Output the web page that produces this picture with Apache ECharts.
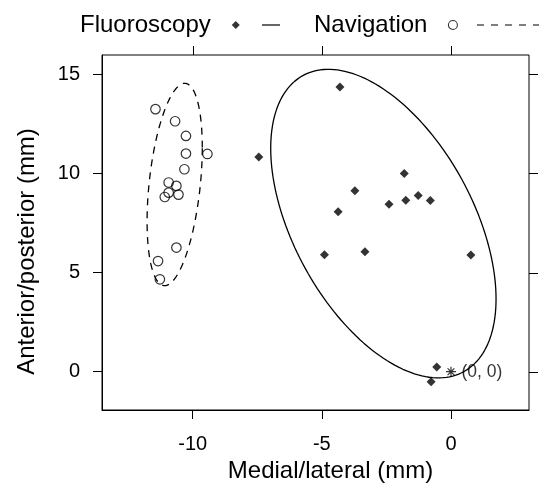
<!DOCTYPE html>
<html>
<head>
<meta charset="utf-8">
<script src="https://cdn.jsdelivr.net/npm/echarts@6/dist/echarts.min.js"></script>
<style>
  html, body { margin: 0; padding: 0; background: #fff; }
  #chart { width: 541px; height: 484px; }
</style>
</head>
<body>
<div id="chart"></div>
<script>
  /** Data (mm) */
  var fluoroX = [-4.30, -1.81, -3.72, -4.37, -2.40, -1.75, -1.27, -0.80, -4.90, -3.33, 0.77, -0.55, -0.77, -7.44];
  var fluoroY = [14.36, 9.99, 9.12, 8.07, 8.45, 8.65, 8.88, 8.63, 5.90, 6.05, 5.89, 0.24, -0.50, 10.83];
  var naviX = [-11.44, -10.68, -10.26, -10.26, -9.43, -10.32, -10.93, -10.63, -10.93, -11.08, -10.55, -10.63, -11.34, -11.27];
  var naviY = [13.24, 12.63, 11.89, 11.00, 10.98, 10.21, 9.54, 9.37, 9.03, 8.81, 8.93, 6.26, 5.58, 4.66];
  var originPoint = [0, 0];
  var xTicks = [-10, -5, 0];
  var yTicks = [0, 5, 10, 15];
  var xRange = [-13.51, 3.02];
  var yRange = [-1.93, 15.97];
  var ellipseSd = 2; // ellipse = mean +/- 2 SD of each group

  var FONT = "'Liberation Sans', Arial, sans-serif";
  var TICK_LEN = 9;

  function pairs(xs, ys) {
    var out = [];
    for (var i = 0; i < xs.length; i++) out.push([xs[i], ys[i]]);
    return out;
  }

  // covariance ellipse of a group, from its mean, SDs and correlation
  function dataEllipse(xs, ys, k) {
    var n = xs.length, mx = 0, my = 0, sxx = 0, syy = 0, sxy = 0;
    for (var i = 0; i < n; i++) { mx += xs[i]; my += ys[i]; }
    mx /= n; my /= n;
    for (var j = 0; j < n; j++) {
      sxx += (xs[j] - mx) * (xs[j] - mx);
      syy += (ys[j] - my) * (ys[j] - my);
      sxy += (xs[j] - mx) * (ys[j] - my);
    }
    var sx = Math.sqrt(sxx / (n - 1)), sy = Math.sqrt(syy / (n - 1));
    var r = sxy / Math.sqrt(sxx * syy);
    var pts = [];
    for (var s = 0; s <= 180; s++) {
      var t = 2 * Math.PI * s / 180;
      pts.push([
        mx + k * sx * Math.cos(t),
        my + k * sy * (r * Math.cos(t) + Math.sqrt(1 - r * r) * Math.sin(t))
      ]);
    }
    return pts;
  }

  function blank() { return ''; }

  var diamondIcon = 'path://M5,0L10,5L5,10L0,5Z';
  var ringIcon = 'path://M5,0A5,5 0 1,1 5,10A5,5 0 1,1 5,0Z';
  var solidIcon = 'path://M0,0H18V1.2H0Z';
  var dashIcon = 'path://M0,0H7V1.2H0ZM14,0H21V1.2H14ZM28,0H35V1.2H28ZM42,0H49V1.2H42ZM56,0H62V1.2H56Z';

  function keyItem(left, name, icon, w, style, padRight, isBlank) {
    return {
      left: left, top: 13, padding: 0, orient: 'horizontal', align: 'right',
      selectedMode: false, symbolKeepAspect: true,
      itemWidth: w, itemHeight: 24, itemGap: 0,
      formatter: isBlank ? blank : '{name}',
      textStyle: { fontSize: 24, color: '#000', fontFamily: FONT, padding: [0, padRight, 0, 0] },
      data: [{ name: name, icon: icon, itemStyle: style }]
    };
  }

  var option = {
    animation: false,
    backgroundColor: '#fff',
    grid: {
      left: 102, right: 12, top: 55, bottom: 74, outerBoundsMode: 'none',
      show: true, borderColor: '#000', borderWidth: 1, backgroundColor: 'transparent'
    },
    legend: [
      keyItem(80, 'Fluoroscopy', diamondIcon, 8, { color: '#000', borderWidth: 0 }, 16, false),
      keyItem(262, 'Fluoroscopy ellipse', solidIcon, 18, { color: '#000', borderWidth: 0 }, 0, true),
      keyItem(314, 'Navigation', ringIcon, 9, { color: 'rgba(0,0,0,0)', borderColor: '#000', borderWidth: 1.1 }, 16, false),
      keyItem(477, 'Navigation ellipse', dashIcon, 62, { color: '#000', borderWidth: 0 }, 0, true)
    ],
    xAxis: {
      type: 'value', min: xRange[0], max: xRange[1],
      name: 'Medial/lateral (mm)', nameLocation: 'middle', nameGap: 49,
      nameTextStyle: { fontSize: 24, color: '#000', fontFamily: FONT, padding: [0, 0, 0, 30] },
      axisLine: { show: true, onZero: false, lineStyle: { color: '#000', width: 1 } },
      axisTick: { show: true, customValues: xTicks, length: TICK_LEN, lineStyle: { color: '#000', width: 1 } },
      axisLabel: { customValues: xTicks, margin: 24, fontSize: 20, color: '#000', fontFamily: FONT },
      splitLine: { show: false }
    },
    yAxis: {
      type: 'value', min: yRange[0], max: yRange[1],
      name: 'Anterior/posterior (mm)', nameLocation: 'middle', nameGap: 63,
      nameTextStyle: { fontSize: 24, color: '#000', fontFamily: FONT, padding: [0, 38, 0, 0] },
      axisLine: { show: true, onZero: false, lineStyle: { color: '#000', width: 1 } },
      axisTick: { show: true, customValues: yTicks, length: TICK_LEN, lineStyle: { color: '#000', width: 1 } },
      axisLabel: { customValues: yTicks, margin: 22, fontSize: 20, color: '#000', fontFamily: FONT },
      splitLine: { show: false }
    },
    series: [
      {
        name: 'Fluoroscopy ellipse', type: 'line', data: dataEllipse(fluoroX, fluoroY, ellipseSd),
        symbol: 'none', smooth: false, z: 1, silent: true,
        itemStyle: { color: '#000' },
        lineStyle: { color: '#000', width: 1.3 }
      },
      {
        name: 'Navigation ellipse', type: 'line', data: dataEllipse(naviX, naviY, ellipseSd),
        symbol: 'none', smooth: false, z: 1, silent: true,
        itemStyle: { color: '#000' },
        lineStyle: { color: '#000', width: 1.3, type: [7, 6] }
      },
      {
        name: 'Fluoroscopy', type: 'scatter', data: pairs(fluoroX, fluoroY),
        symbol: 'diamond', symbolSize: 9, z: 3,
        itemStyle: { color: '#000' }
      },
      {
        name: 'Navigation', type: 'scatter', data: pairs(naviX, naviY),
        symbol: 'circle', symbolSize: 9.5, z: 3,
        itemStyle: { color: 'rgba(0,0,0,0)', borderColor: '#000', borderWidth: 1.2 }
      },
      {
        name: 'origin', type: 'scatter', data: [originPoint],
        symbol: 'path://M5,0V10M0,5H10M1.6,1.6L8.4,8.4M1.6,8.4L8.4,1.6', symbolSize: 10, z: 4,
        itemStyle: { color: 'none', borderColor: '#000', borderWidth: 1.2 },
        label: {
          show: true, position: 'right', distance: 3, formatter: '(0, 0)',
          fontSize: 17.5, color: '#000', fontFamily: FONT
        }
      }
    ]
  };

  var chart = echarts.init(document.getElementById('chart'));
  chart.setOption(option);

  // mirrored ticks on the top and right edges, placed through the chart's own scales
  var mirrorTicks = [];
  xTicks.forEach(function (v) {
    var p = chart.convertToPixel({ gridIndex: 0 }, [v, yRange[1]]);
    var x = Math.round(p[0]) + 0.5;
    mirrorTicks.push({
      type: 'line', silent: true,
      shape: { x1: x, y1: p[1], x2: x, y2: p[1] - TICK_LEN },
      style: { stroke: '#000', lineWidth: 1 }
    });
  });
  yTicks.forEach(function (v) {
    var p = chart.convertToPixel({ gridIndex: 0 }, [xRange[1], v]);
    var y = Math.round(p[1]) + 0.5;
    mirrorTicks.push({
      type: 'line', silent: true,
      shape: { x1: p[0], y1: y, x2: p[0] + TICK_LEN, y2: y },
      style: { stroke: '#000', lineWidth: 1 }
    });
  });
  chart.setOption({ graphic: mirrorTicks });
</script>
</body>
</html>
